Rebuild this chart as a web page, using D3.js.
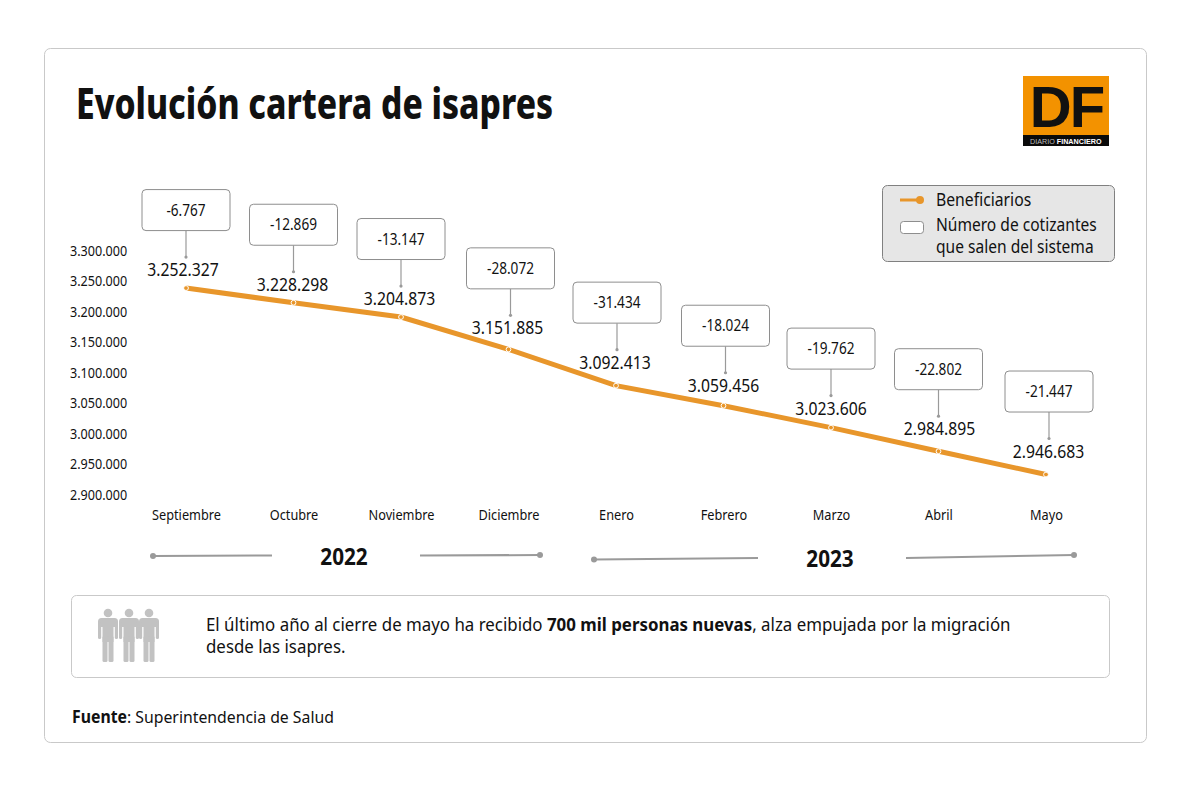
<!DOCTYPE html>
<html>
<head>
<meta charset="utf-8">
<script src="https://d3js.org/d3.v7.min.js"></script>
<style>
  html, body { margin: 0; background: #fff; }
  text { font-family: "Noto Sans", sans-serif; fill: #111; }
</style>
</head>
<body>
<svg id="chart" width="1200" height="789"></svg>
<script>
var months = ["Septiembre", "Octubre", "Noviembre", "Diciembre", "Enero", "Febrero", "Marzo", "Abril", "Mayo"];
var beneficiarios = [3252327, 3228298, 3204873, 3151885, 3092413, 3059456, 3023606, 2984895, 2946683];
var cotizantes = [-6767, -12869, -13147, -28072, -31434, -18024, -19762, -22802, -21447];
var yTicks = [3300000, 3250000, 3200000, 3150000, 3100000, 3050000, 3000000, 2950000, 2900000];

// hand placed nudges for the labels, the original isn't regular
var labelLift = [19, 19, 19, 22, 24, 21, 20, 23, 24];
var labelShift = [-3, -1, -1.5, -1, -1, 0, 0, 1, 2.5];
var boxShift = [0, 0, 0, 2, 1, 2, 0, 0, 3];

var orange = "#e8962b";
var grey = "#9a9a9a";

var svg = d3.select("#chart");
var es = d3.formatLocale({decimal: ",", thousands: ".", grouping: [3], currency: ["$", ""]});
var fmt = es.format(",");

var x = d3.scalePoint().domain(months).range([186, 1046]);
var y = d3.scaleLinear().domain([2900000, 3300000]).range([503, 259]);

// squeeze text horizontally, only wide fonts are available here
function label(parent, px, py, parts, size, sx, anchor, weight) {
  var t = parent.append("text")
    .attr("transform", "translate(" + px + "," + py + ") scale(" + sx + ",1)")
    .attr("font-size", size)
    .attr("text-anchor", anchor || "start")
    .attr("font-weight", weight || 400);
  [].concat(parts).forEach(function (p) {
    if (typeof p === "string") t.append("tspan").text(p);
    else t.append("tspan").attr("font-weight", 700).text(p.b);
  });
  return t;
}

function squeezeTicks(g, sx) {
  g.selectAll("text").each(function () {
    var t = d3.select(this);
    t.attr("transform", "translate(" + t.attr("x") + ",0) scale(" + sx + ",1)").attr("x", 0);
  });
}

// outer panel
svg.append("rect").attr("x", 44.5).attr("y", 48.5).attr("width", 1102).attr("height", 694)
  .attr("rx", 6).attr("fill", "#fff").attr("stroke", "#c9c9c9");

label(svg, 76, 119, "Evolución cartera de isapres", 42, 0.80, "start", 800);

// logo
var logo = svg.append("g");
logo.append("rect").attr("x", 1023).attr("y", 76).attr("width", 86).attr("height", 59).attr("fill", "#f39200");
logo.append("rect").attr("x", 1023).attr("y", 135).attr("width", 86).attr("height", 11).attr("fill", "#0a0a0a");
logo.append("text").attr("x", 1066.5).attr("y", 127).attr("text-anchor", "middle")
  .attr("font-size", 58).attr("font-weight", 700).attr("letter-spacing", -2)
  .style("font-family", "'Liberation Sans', sans-serif").text("DF");
logo.append("text").attr("x", 1030).attr("y", 143.5).attr("font-size", 7.2)
  .style("font-family", "'Liberation Sans', sans-serif").style("fill", "#bdbdbd")
  .html('DIARIO <tspan font-weight="700" style="fill:#fff">FINANCIERO</tspan>');

// axes, tick lines hidden like the original
var yAxis = svg.append("g").attr("transform", "translate(70,-8)")
  .call(d3.axisLeft(y).tickValues(yTicks).tickFormat(fmt).tickSize(0).tickPadding(0));
yAxis.select(".domain").remove();
yAxis.selectAll("text").attr("text-anchor", "start").attr("font-size", 14).attr("x", 0);
squeezeTicks(yAxis, 0.9);

var xAxis = svg.append("g").attr("transform", "translate(0,510)")
  .call(d3.axisBottom(x).tickSize(0).tickPadding(0));
xAxis.select(".domain").remove();
xAxis.selectAll("text").attr("font-size", 14).attr("x", 0);
squeezeTicks(xAxis, 0.91);

// callouts
var callouts = svg.append("g");
months.forEach(function (m, i) {
  var ly = y(beneficiarios[i]) - labelLift[i];
  var top = ly - 79.5;
  var cx = x(m) + boxShift[i];
  callouts.append("line").attr("x1", cx).attr("x2", cx).attr("y1", top + 41).attr("y2", ly - 12)
    .attr("stroke", grey).attr("stroke-width", 1.2);
  callouts.append("circle").attr("cx", cx).attr("cy", ly - 12).attr("r", 1.6).attr("fill", grey);
  callouts.append("rect").attr("x", cx - 44).attr("y", top).attr("width", 88).attr("height", 41)
    .attr("rx", 4).attr("fill", "#fff").attr("stroke", "#8e8e8e");
  label(callouts, cx, top + 26, fmt(cotizantes[i]).replace("−", "-"), 16, 0.85, "middle");
  label(callouts, x(m) + labelShift[i], ly + 7, fmt(beneficiarios[i]), 19, 0.83, "middle");
});

// line
var line = d3.line().x(function (d, i) { return x(months[i]); }).y(function (d) { return y(d); });
svg.append("path").datum(beneficiarios).attr("d", line)
  .attr("fill", "none").attr("stroke", orange).attr("stroke-width", 5);
svg.selectAll("circle.pt").data(beneficiarios).enter().append("circle").attr("class", "pt")
  .attr("cx", function (d, i) { return x(months[i]); }).attr("cy", function (d) { return y(d); })
  .attr("r", 2.4).attr("fill", orange).attr("stroke", "#fff").attr("stroke-width", 1);

// legend
var legend = svg.append("g");
legend.append("rect").attr("x", 882.5).attr("y", 185.5).attr("width", 232).attr("height", 76)
  .attr("rx", 5).attr("fill", "#e6e6e6").attr("stroke", "#808080");
legend.append("line").attr("x1", 900).attr("x2", 920).attr("y1", 200).attr("y2", 200)
  .attr("stroke", orange).attr("stroke-width", 3);
legend.append("circle").attr("cx", 920).attr("cy", 200).attr("r", 4).attr("fill", orange);
legend.append("rect").attr("x", 900.5).attr("y", 221.5).attr("width", 23).attr("height", 12)
  .attr("rx", 3).attr("fill", "#fff").attr("stroke", "#8e8e8e");
label(legend, 936, 206, "Beneficiarios", 17.5, 0.9);
label(legend, 936, 231, "Número de cotizantes", 17.5, 0.89);
label(legend, 936, 253, "que salen del sistema", 17.5, 0.89);

// year brackets
var brackets = svg.append("g");
[[153, 556, 272, 555.5], [540, 555, 420, 555.5], [594, 559.5, 758, 558], [1074, 555, 906, 558]].forEach(function (b) {
  brackets.append("line").attr("x1", b[0]).attr("y1", b[1]).attr("x2", b[2]).attr("y2", b[3])
    .attr("stroke", grey).attr("stroke-width", 2);
  brackets.append("circle").attr("cx", b[0]).attr("cy", b[1]).attr("r", 3).attr("fill", grey);
});
label(svg, 344, 565, "2022", 23, 0.9, "middle", 700);
label(svg, 830, 567, "2023", 23, 0.9, "middle", 700);

// note box
var note = svg.append("g");
note.append("rect").attr("x", 71.5).attr("y", 595.5).attr("width", 1038).attr("height", 82)
  .attr("rx", 5).attr("fill", "#fff").attr("stroke", "#c9c9c9");
[149, 108, 129].forEach(function (cx) {
  var p = note.append("g").attr("transform", "translate(" + cx + ",0)").attr("fill", "#c2c2c2");
  p.append("circle").attr("cy", 613).attr("r", 4.3);
  p.append("rect").attr("x", -10).attr("y", 618).attr("width", 20).attr("height", 9).attr("rx", 3.5);
  p.append("rect").attr("x", -10).attr("y", 622).attr("width", 3.2).attr("height", 17).attr("rx", 1.5);
  p.append("rect").attr("x", 6.8).attr("y", 622).attr("width", 3.2).attr("height", 17).attr("rx", 1.5);
  p.append("rect").attr("x", -5.5).attr("y", 622).attr("width", 11).attr("height", 20);
  p.append("rect").attr("x", -5.5).attr("y", 636).attr("width", 5).attr("height", 26).attr("rx", 1.5);
  p.append("rect").attr("x", 0.5).attr("y", 636).attr("width", 5).attr("height", 26).attr("rx", 1.5);
});
label(note, 206, 631, ["El último año al cierre de mayo ha recibido ", {b: "700 mil personas nuevas"}, ", alza empujada por la migración"], 18, 0.937);
label(note, 206, 653, "desde las isapres.", 18, 0.937);

label(svg, 72, 723, [{b: "Fuente"}, ": Superintendencia de Salud"], 17, 0.93);
</script>
</body>
</html>
